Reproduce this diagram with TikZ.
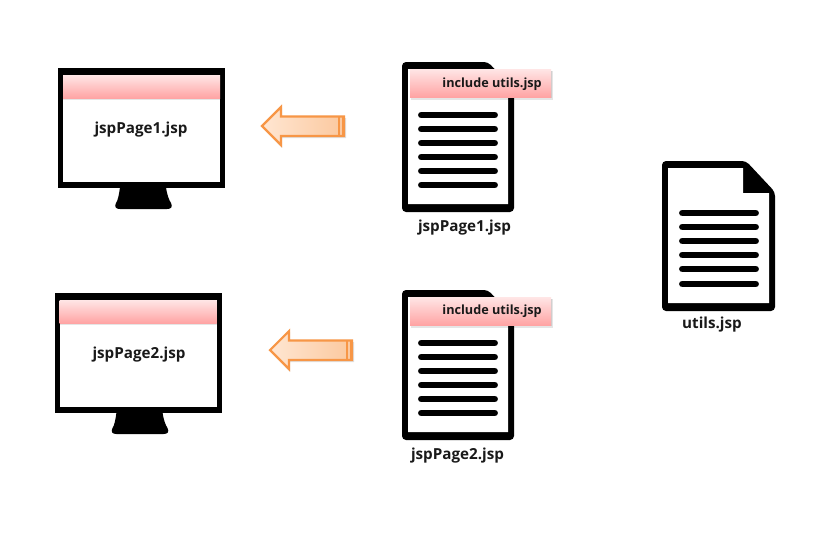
\documentclass[tikz,border=0pt]{standalone}
\usepackage{fontspec}
\setmainfont{Open Sans}
\usetikzlibrary{calc}
\definecolor{pinktop}{HTML}{FFE6E6}
\definecolor{pinkbot}{HTML}{FFA4A4}
\definecolor{arrowedge}{HTML}{F79646}
\definecolor{arrowlight}{HTML}{FFE6D2}
\definecolor{arrowdark}{HTML}{FBC89E}
\tikzset{
  x=0.75pt,y=-0.75pt,
  lbl/.style={font=\bfseries\fontsize{11.4pt}{13pt}\selectfont,inner sep=0pt,text=black!90},
  inc/.style={font=\bfseries\fontsize{9.5pt}{11pt}\selectfont,inner sep=0pt,text=black!90},
  docline/.style={line width=5.2pt,line cap=round,black},
  bar/.style={top color=pinktop,bottom color=pinkbot,draw=none},
  softshadow/.style={fill=black,draw=none,opacity=0.1},
  blockarrow/.style={draw=arrowedge,line width=1.6pt,line join=miter,left color=arrowlight,right color=arrowdark},
}
\newcommand{\monitorshape}[2]{%
  \begin{scope}[shift={(#1*0.75pt,-#2*0.75pt)}]
    \fill[black] (120,187) -- (166,187) .. controls (167,195) and (169,200) .. (171,203)
      .. controls (173,207) and (171,209) .. (167,209) -- (120,209)
      .. controls (116,209) and (114,207) .. (116,203)
      .. controls (118,200) and (119,195) .. (120,187) -- cycle;
    \fill[black] (58,68) rectangle (225,188);
    \fill[white] (63,75) rectangle (220,182);
    \fill[softshadow] (63,98) rectangle (220,100);
    \fill[softshadow] (63,98) rectangle (220,99);
    \shade[bar] (63,75) rectangle (220,98);
  \end{scope}}
\newcommand{\pageshape}[2]{%
  \begin{scope}[shift={(#1*0.75pt,-#2*0.75pt)}]
    \fill[black,rounded corners=3pt] (402,62) -- (488,62) -- (514,90) -- (514,212) -- (402,212) -- cycle;
    \fill[white] (408,69) -- (486,69) -- (508,92) -- (508,204) -- (408,204) -- cycle;
    \foreach \yy in {115,129,143,157,171,185}
      \draw[docline] (421.5,\yy) -- (494.5,\yy);
    \fill[softshadow] (411,71) rectangle (553,99.5);
    \fill[softshadow] (411,71) rectangle (552,98);
    \shade[bar] (410,69) rectangle (551,97);
  \end{scope}}
\newcommand{\leftarrowshape}[2]{%
  \begin{scope}[shift={(#1*0.75pt,-#2*0.75pt)}]
    \fill[black,opacity=0.12] (263,128) -- (282,108) -- (282,118) -- (346,118) -- (346,138) -- (282,138) -- (282,148) -- cycle;
    \shade[blockarrow] (262,126) -- (281,107) -- (281,116.5) -- (344,116.5) -- (344,136) -- (281,136) -- (281,145) -- cycle;
    \fill[arrowedge] (338,116.5) rectangle (340,136);
    \fill[arrowedge] (341.5,116.5) rectangle (344,136);
  \end{scope}}
\begin{document}
\begin{tikzpicture}
\useasboundingbox (0,0) rectangle (835,543);
\fill[white] (0,0) rectangle (835,543);

\monitorshape{0}{0}
\monitorshape{-3.5}{225}
\node[lbl] (mon1) at (141,130) {jspPage1.jsp};
\node[lbl] (mon2) at (139,355) {jspPage2.jsp};

\leftarrowshape{0}{0}
\leftarrowshape{8}{224}

\pageshape{0}{0}
\pageshape{0}{228}
\node[inc,anchor=east] (inc1) at (542,84.5) {include utils.jsp};
\node[inc,anchor=east] (inc2) at (542,311.5) {include utils.jsp};
\node[lbl] (doc1) at (464.5,228) {jspPage1.jsp};
\node[lbl] (doc2) at (457.5,456) {jspPage2.jsp};

\fill[black,rounded corners=3pt] (662,161) -- (746,161) -- (775,192) -- (775,311) -- (662,311) -- cycle;
\fill[white] (668,168) -- (743,168) -- (743,193) -- (769,193) -- (769,303) -- (668,303) -- cycle;
\foreach \yy in {213,227,241,255,269,284}
  \draw[docline] (682.5,\yy) -- (755.5,\yy);
\node[lbl] (utils) at (712,325) {utils.jsp};
\end{tikzpicture}
\end{document}
